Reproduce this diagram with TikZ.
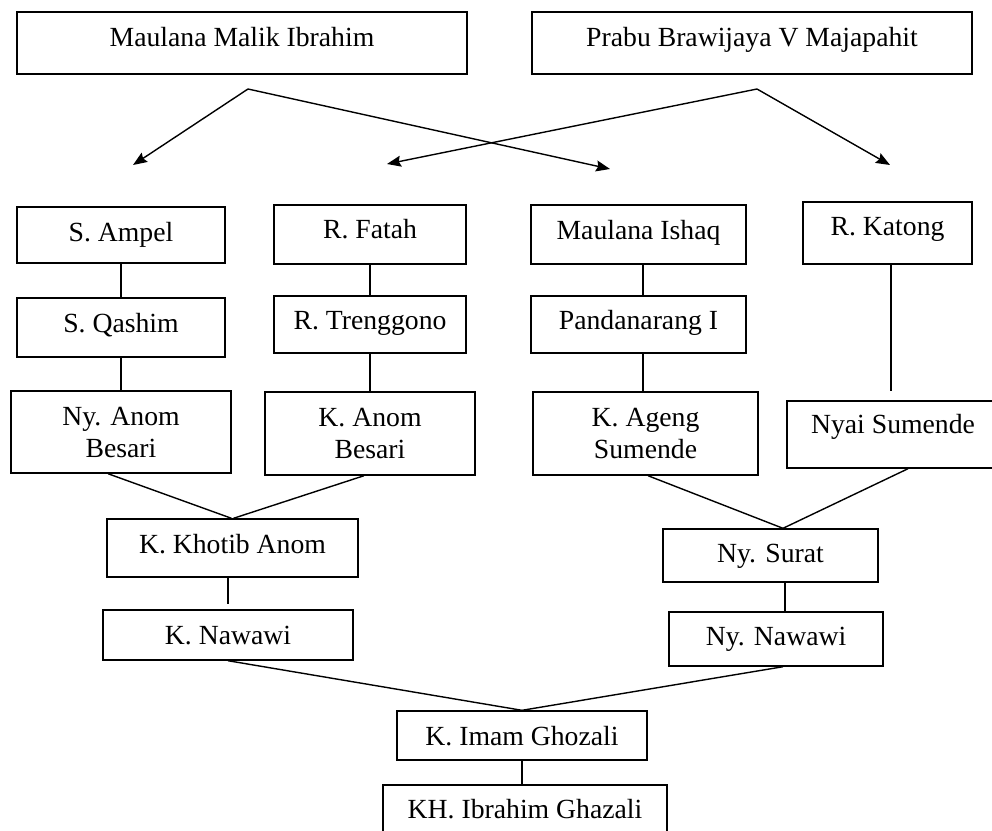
\documentclass[tikz,border=0pt]{standalone}
\usepackage{fontspec}
\setmainfont{Liberation Serif}
\usetikzlibrary{calc}
\usetikzlibrary{arrows.meta}
\tikzset{
	box/.style={draw=black,line width=1.4pt,rectangle,inner sep=0pt,align=center,
		font=\fontsize{27.7pt}{32pt}\selectfont},
	one/.style={box,text height=19pt,text depth=#1},
	one/.default=10pt,
	link/.style={draw=black,line width=1.4pt},
	arr/.style={link,-{Stealth[length=14pt,width=11pt,inset=2pt]}},
}

\begin{document}
\begin{tikzpicture}[x=1pt,y=-1pt]
	\useasboundingbox (0,0) rectangle (992,830);
	% ancestors
	\node[one=13pt,minimum width=450pt,minimum height=62pt] (mmi) at (242,43) {Maulana Malik Ibrahim};
	\node[one=13pt,minimum width=440pt,minimum height=62pt] (prabu) at (752,43) {Prabu Brawijaya V Majapahit};
	% first row
	\node[one=7pt,minimum width=208pt,minimum height=56pt] (ampel) at (121,235) {S. Ampel};
	\node[one=12pt,minimum width=192pt,minimum height=59pt] (fatah) at (370,234.5) {R. Fatah};
	\node[one,minimum width=215pt,minimum height=59pt] (ishaq) at (638.5,234.5) {Maulana Ishaq};
	\node[one=15pt,minimum width=169pt,minimum height=62pt] (katong) at (887.5,233) {R. Katong};
	% second row
	\node[one,minimum width=208pt,minimum height=59pt] (qashim) at (121,327.5) {S. Qashim};
	\node[one,minimum width=192pt,minimum height=57pt] (trenggono) at (370,324.5) {R. Trenggono};
	\node[one,minimum width=215pt,minimum height=57pt] (pandan) at (638.5,324.5) {Pandanarang I};
	% third row
	\node[box,minimum width=220pt,minimum height=82pt] (nyanom) at (121,432) {Ny. Anom\\Besari};
	\node[box,minimum width=210pt,minimum height=83pt] (kanom) at (370,433.5) {K. Anom\\Besari};
	\node[box,minimum width=225pt,minimum height=83pt] (ageng) at (645.5,433.5) {K. Ageng\\Sumende};
	\node[one=21pt,minimum width=212pt,minimum height=67pt] (nyai) at (893,434.5) {Nyai Sumende};
	% lower rows
	\node[one=9pt,minimum width=251pt,minimum height=58pt] (khotib) at (232.5,548) {K. Khotib Anom};
	\node[one=6pt,minimum width=215pt,minimum height=53pt] (surat) at (770.5,555.5) {Ny. Surat};
	\node[one=1pt,minimum width=250pt,minimum height=50pt] (knawawi) at (228,635) {K. Nawawi};
	\node[one=7pt,minimum width=214pt,minimum height=54pt] (nynawawi) at (776,639) {Ny. Nawawi};
	\node[one=0pt,minimum width=250pt,minimum height=49pt] (imam) at (522,735.5) {K. Imam Ghozali};
	\node[one=3pt,minimum width=284pt,minimum height=50pt] (ibrahim) at (525,810) {KH. Ibrahim Ghazali};

	% arrows from the top
	\coordinate (m1) at (248,89);
	\coordinate (m2) at (757,89);
	\coordinate (tA) at (133,165);
	\coordinate (tB) at (387,164);
	\coordinate (tC) at (610,169);
	\coordinate (tD) at (890,165);
	\draw[arr] (m1) -- (tA);
	\draw[arr] (m1) -- (tC);
	\draw[arr] (m2) -- (tB);
	\draw[arr] (m2) -- (tD);

	% lines of descent
	\foreach \a/\b in {ampel/qashim,qashim/nyanom,fatah/trenggono,trenggono/kanom,imam/ibrahim}
	\draw[link] (\a.south) -- (\a.south |- \b.north);
	\foreach \a/\b in {ishaq/pandan,pandan/ageng}
	\draw[link] ([xshift=4.5pt]\a.south) -- ([xshift=4.5pt]\a.south |- \b.north);
	\draw[link,shorten >=9pt] ([xshift=3.5pt]katong.south) -- ([xshift=3.5pt]katong.south |- nyai.north);
	\draw[link] ([xshift=-13pt]nyanom.south) -- ([xshift=-1pt]khotib.north);
	\draw[link] ([xshift=-6pt]kanom.south) -- ([xshift=1pt]khotib.north);
	\draw[link,shorten >=5pt] ([xshift=-4.5pt]khotib.south) -- ([xshift=-4.5pt]khotib.south |- knawawi.north);
	\draw[link] ([xshift=2.5pt]ageng.south) -- ([xshift=12.5pt]surat.north);
	\draw[link] ([xshift=15pt]nyai.south) -- ([xshift=12.5pt]surat.north);
	\draw[link] ([xshift=14.5pt]surat.south) -- ([xshift=14.5pt]surat.south |- nynawawi.north);
	\draw[link] (knawawi.south) -- (imam.north);
	\draw[link] ([xshift=7pt]nynawawi.south) -- (imam.north);
\end{tikzpicture}
\end{document}
